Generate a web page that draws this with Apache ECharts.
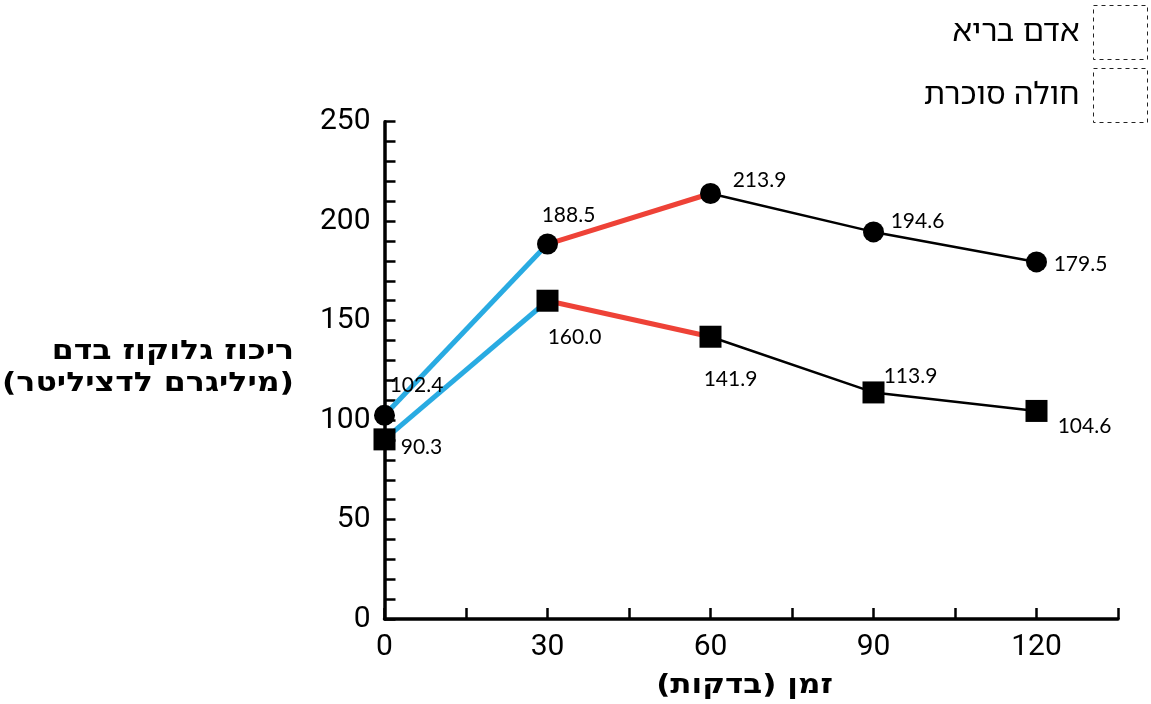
<!DOCTYPE html>
<html>
<head>
<meta charset="utf-8">
<script src="https://cdn.jsdelivr.net/npm/echarts@6/dist/echarts.min.js"></script>
<style>
html,body{margin:0;padding:0;background:#fff;}
#c{width:1151px;height:704px;}
</style>
</head>
<body>
<div id="c"></div>
<script>
// ---- data ----
const times = [0, 30, 60, 90, 120];
const healthy = [102.4, 188.5, 213.9, 194.6, 179.5];
const diabetic = [90.3, 160.0, 141.9, 113.9, 104.6];
const seriesNames = ['אדם בריא', 'חולה סוכרת'];
const xTickLabels = [0, 30, 60, 90, 120];
const yTickLabels = [0, 50, 100, 150, 200, 250];
const xAxisTitle = '\u200Fזמן (בדקות)\u200F';
const yAxisTitle = 'ריכוז גלוקוז בדם\n\u200F(מיליגרם לדציליטר)\u200F';

// ---- styling (not data) ----
const BLUE = '#29abe2', RED = '#ee4237', BLACK = '#000';
const HEB = '"Noto Sans Hebrew","Noto Sans","DejaVu Sans",sans-serif';
const HEB_BOLD = '"DejaVu Sans",sans-serif';
const healthyLabelOffsets = [[32,-30],[21,-29],[49,-13],[44,-11],[44,2]];
const diabeticLabelOffsets = [[37,8],[27,37],[20,43],[37,-16],[48,15]];
// segments: [startIndex, endIndex, colour, width]
const segments = [[0,1,BLUE,5],[1,2,RED,5],[2,4,BLACK,2.5]];

function seg(arr, i, j) {
  const out = [];
  for (let k = i; k <= j; k++) out.push([times[k], arr[k]]);
  return out;
}
const series = [];
[healthy, diabetic].forEach(arr => {
  segments.forEach(s => {
    series.push({
      type: 'line', data: seg(arr, s[0], s[1]), showSymbol: false, symbol: 'none',
      lineStyle: {color: s[2], width: s[3]}, silent: true, z: 2
    });
  });
});
function scatter(name, arr, symbol, size, offs) {
  return {
    name: name, type: 'scatter', symbol: symbol, symbolSize: size, z: 5,
    itemStyle: {color: BLACK, opacity: 1},
    data: arr.map((v, i) => ({
      value: [times[i], v],
      label: {show: true, position: 'inside', offset: offs[i],
        formatter: v.toFixed(1), color: '#000', opacity: 1, fontSize: 21, fontFamily: 'Lato, sans-serif'}
    }))
  };
}
series.push(scatter(seriesNames[0], healthy, 'circle', 21, healthyLabelOffsets));
series.push(scatter(seriesNames[1], diabetic, 'rect', 22, diabeticLabelOffsets));

const legendItemStyle = {color: 'transparent', borderColor: '#222', borderWidth: 1, borderType: [4, 4]};

const chart = echarts.init(document.getElementById('c'));
chart.setOption({
  animation: false,
  backgroundColor: '#fff',
  grid: {left: 384.5, right: 33, top: 121.7, bottom: 85, containLabel: false, outerBoundsMode: 'none'},
  legend: {
    orient: 'vertical', right: 3, top: 5, align: 'right', padding: 0,
    itemWidth: 54, itemHeight: 54, itemGap: 8,
    textStyle: {fontSize: 31, color: '#000', fontFamily: HEB, padding: [0, 9, 0, 0]},
    data: seriesNames.map(n => ({name: n, icon: 'rect', itemStyle: legendItemStyle}))
  },
  xAxis: {
    type: 'value', min: 0, max: 135, interval: 15,
    axisLine: {lineStyle: {color: '#000', width: 3.5}},
    axisTick: {inside: true, length: 11, lineStyle: {color: '#000', width: 2.5}},
    axisLabel: {formatter: v => xTickLabels.includes(v) ? String(v) : '', fontSize: 30,
      color: '#000', fontFamily: 'Roboto, sans-serif', margin: 13},
    splitLine: {show: false}
  },
  yAxis: {
    type: 'value', min: 0, max: 250, interval: 10,
    axisLine: {show: true, lineStyle: {color: '#000', width: 3.5}},
    axisTick: {show: true, inside: true, length: 11, lineStyle: {color: '#000', width: 2.5}},
    axisLabel: {formatter: v => yTickLabels.includes(v) ? String(v) : '', fontSize: 30,
      color: '#000', fontFamily: 'Roboto, sans-serif', margin: 14},
    splitLine: {show: false}
  },
  graphic: [{
    type: 'text', x: 294, y: 368, scaleX: 1.17,
    style: {text: yAxisTitle, textAlign: 'right', textVerticalAlign: 'middle',
      font: 'bold 27px ' + HEB_BOLD, fill: '#000', lineHeight: 32}
  }, {
    type: 'text', x: 744.5, y: 686, scaleX: 1.15,
    style: {text: xAxisTitle, textAlign: 'center', textVerticalAlign: 'middle',
      font: 'bold 27px ' + HEB_BOLD, fill: '#000'}
  }],
  series: series
});
</script>
</body>
</html>
